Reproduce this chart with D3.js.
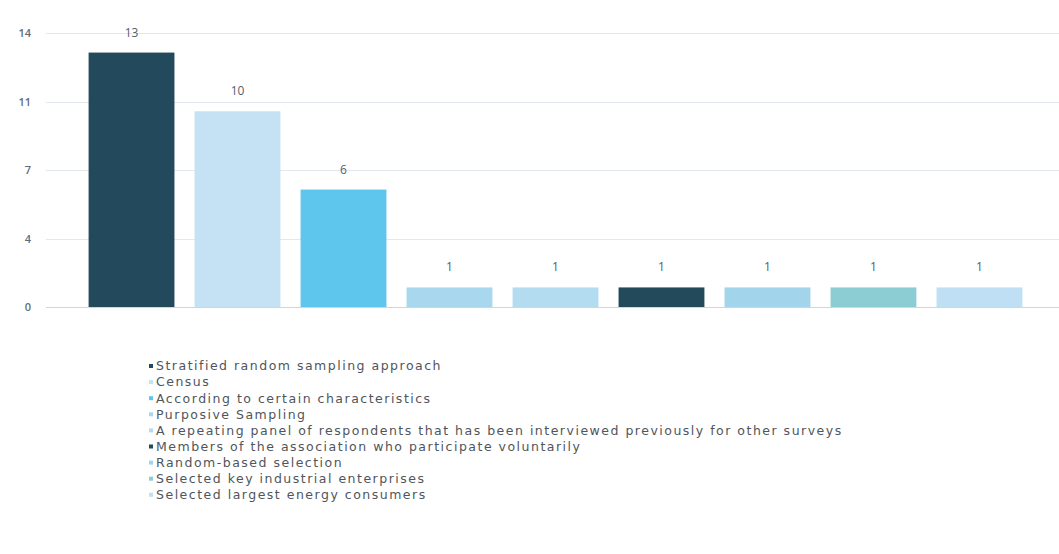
<!DOCTYPE html>
<html>
<head>
<meta charset="utf-8">
<script src="https://cdn.jsdelivr.net/npm/d3@7"></script>
<style>
  html, body { margin: 0; padding: 0; background: #ffffff; }
  svg { display: block; font-family: "Open Sans", "DejaVu Sans", sans-serif; }
</style>
</head>
<body>
<svg id="chart" width="1059" height="554"></svg>
<script>
// Sampling approaches used by the surveys, with their counts
const categories = [
  "Stratified random sampling approach",
  "Census",
  "According to certain characteristics",
  "Purposive Sampling",
  "A repeating panel of respondents that has been interviewed previously for other surveys",
  "Members of the association who participate voluntarily",
  "Random-based selection",
  "Selected key industrial enterprises",
  "Selected largest energy consumers"
];
const counts = [13, 10, 6, 1, 1, 1, 1, 1, 1];
const barColors = [
  "#234a5c", "#c4e2f3", "#5ec5ec", "#a9d8ee", "#b4dcf1",
  "#224a5b", "#a2d4ec", "#8bcdd2", "#bfe0f4"
];
const yTicks = [0, 3.5, 7, 10.5, 14];
const yTickLabels = ["0", "4", "7", "11", "14"];

const svg = d3.select("#chart");

const y = d3.scaleLinear().domain([0, 14]).range([307, 33]);
const x = d3.scaleBand()
  .domain(categories)
  .range([78, 1033])
  .paddingInner(0.19)
  .paddingOuter(0.1);

// horizontal gridlines
svg.append("g")
  .selectAll("line")
  .data(yTicks)
  .join("line")
  .attr("x1", 46)
  .attr("x2", 1059)
  .attr("y1", d => Math.round(y(d)) + 0.5)
  .attr("y2", d => Math.round(y(d)) + 0.5)
  .attr("stroke", d => d === 0 ? "#cfd6de" : "#e3e8ee")
  .attr("stroke-width", 1);

// y-axis labels
const yAxis = d3.axisLeft(y)
  .tickValues(yTicks)
  .tickFormat((d, i) => yTickLabels[i])
  .tickSize(0)
  .tickPadding(0);
const yg = svg.append("g").attr("transform", "translate(31,0)").call(yAxis);
yg.select(".domain").remove();
yg.selectAll("text")
  .attr("fill", "#5f6b76")
  .attr("font-size", 11)
  .attr("font-weight", 600)
  .attr("font-family", "\"Open Sans\", sans-serif");

// bars
svg.append("g")
  .selectAll("rect")
  .data(counts)
  .join("rect")
  .attr("x", (d, i) => x(categories[i]))
  .attr("width", x.bandwidth())
  .attr("y", d => y(d))
  .attr("height", d => y(0) - y(d))
  .attr("fill", (d, i) => barColors[i]);

// value labels
svg.append("g")
  .selectAll("text")
  .data(counts)
  .join("text")
  .attr("x", (d, i) => x(categories[i]) + x.bandwidth() / 2)
  .attr("y", d => y(d) - 16)
  .attr("text-anchor", "middle")
  .attr("fill", "#55606a")
  .attr("font-size", 12)
  .text(d => d);

// legend
const legend = svg.append("g").attr("transform", "translate(149,366)");
const rows = legend.selectAll("g")
  .data(categories)
  .join("g")
  .attr("transform", (d, i) => `translate(0,${i * 16.1})`);
rows.append("rect")
  .attr("x", 0)
  .attr("y", -2)
  .attr("width", 4)
  .attr("height", 4)
  .attr("fill", (d, i) => barColors[i]);
rows.append("text")
  .attr("x", 7)
  .attr("y", 0)
  .attr("dy", "0.35em")
  .attr("fill", "#50555b")
  .attr("font-family", "\"DejaVu Sans\", sans-serif")
  .attr("font-size", 12.5)
  .attr("letter-spacing", 1.5)
  .text(d => d);
</script>
</body>
</html>
